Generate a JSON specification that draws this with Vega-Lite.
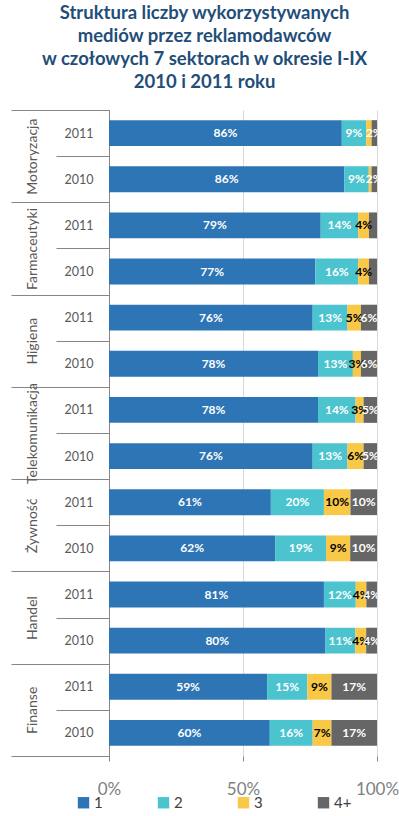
{
  "$schema": "https://vega.github.io/schema/vega-lite/v6.json",
  "width": 268,
  "height": 646,
  "padding": {"left": 10, "top": 3, "right": 3, "bottom": 5},
  "config": {"view": {"stroke": null}, "font": "Lato"},
  "title": {
    "text": ["Struktura liczby wykorzystywanych", "mediów przez reklamodawców", "w czołowych 7 sektorach w okresie I-IX", "2010 i 2011 roku"],
    "font": "Lato", "fontSize": 18.5, "fontWeight": "bold", "color": "#1F4E79",
    "lineHeight": 23, "anchor": "middle", "frame": "bounds", "offset": 13
  },
  "layer": [
    {
      "data": {"values": [
        {"sector": "Motoryzacja", "year": "2011", "s": "1", "v": 86, "lab": "86%"},
        {"sector": "Motoryzacja", "year": "2011", "s": "2", "v": 9, "lab": "9%"},
        {"sector": "Motoryzacja", "year": "2011", "s": "3", "v": 2, "lab": ""},
        {"sector": "Motoryzacja", "year": "2011", "s": "4+", "v": 2, "lab": "2%"},
        {"sector": "Motoryzacja", "year": "2010", "s": "1", "v": 86, "lab": "86%"},
        {"sector": "Motoryzacja", "year": "2010", "s": "2", "v": 9, "lab": "9%"},
        {"sector": "Motoryzacja", "year": "2010", "s": "3", "v": 1, "lab": ""},
        {"sector": "Motoryzacja", "year": "2010", "s": "4+", "v": 2, "lab": "2%"},
        {"sector": "Farmaceutyki", "year": "2011", "s": "1", "v": 79, "lab": "79%"},
        {"sector": "Farmaceutyki", "year": "2011", "s": "2", "v": 14, "lab": "14%"},
        {"sector": "Farmaceutyki", "year": "2011", "s": "3", "v": 4, "lab": "4%"},
        {"sector": "Farmaceutyki", "year": "2011", "s": "4+", "v": 3, "lab": ""},
        {"sector": "Farmaceutyki", "year": "2010", "s": "1", "v": 77, "lab": "77%"},
        {"sector": "Farmaceutyki", "year": "2010", "s": "2", "v": 16, "lab": "16%"},
        {"sector": "Farmaceutyki", "year": "2010", "s": "3", "v": 4, "lab": "4%"},
        {"sector": "Farmaceutyki", "year": "2010", "s": "4+", "v": 3, "lab": ""},
        {"sector": "Higiena", "year": "2011", "s": "1", "v": 76, "lab": "76%"},
        {"sector": "Higiena", "year": "2011", "s": "2", "v": 13, "lab": "13%"},
        {"sector": "Higiena", "year": "2011", "s": "3", "v": 5, "lab": "5%"},
        {"sector": "Higiena", "year": "2011", "s": "4+", "v": 6, "lab": "6%"},
        {"sector": "Higiena", "year": "2010", "s": "1", "v": 78, "lab": "78%"},
        {"sector": "Higiena", "year": "2010", "s": "2", "v": 13, "lab": "13%"},
        {"sector": "Higiena", "year": "2010", "s": "3", "v": 3, "lab": "3%"},
        {"sector": "Higiena", "year": "2010", "s": "4+", "v": 6, "lab": "6%"},
        {"sector": "Telekomunikacja", "year": "2011", "s": "1", "v": 78, "lab": "78%"},
        {"sector": "Telekomunikacja", "year": "2011", "s": "2", "v": 14, "lab": "14%"},
        {"sector": "Telekomunikacja", "year": "2011", "s": "3", "v": 3, "lab": "3%"},
        {"sector": "Telekomunikacja", "year": "2011", "s": "4+", "v": 5, "lab": "5%"},
        {"sector": "Telekomunikacja", "year": "2010", "s": "1", "v": 76, "lab": "76%"},
        {"sector": "Telekomunikacja", "year": "2010", "s": "2", "v": 13, "lab": "13%"},
        {"sector": "Telekomunikacja", "year": "2010", "s": "3", "v": 6, "lab": "6%"},
        {"sector": "Telekomunikacja", "year": "2010", "s": "4+", "v": 5, "lab": "5%"},
        {"sector": "Żywność", "year": "2011", "s": "1", "v": 61, "lab": "61%"},
        {"sector": "Żywność", "year": "2011", "s": "2", "v": 20, "lab": "20%"},
        {"sector": "Żywność", "year": "2011", "s": "3", "v": 10, "lab": "10%"},
        {"sector": "Żywność", "year": "2011", "s": "4+", "v": 10, "lab": "10%"},
        {"sector": "Żywność", "year": "2010", "s": "1", "v": 62, "lab": "62%"},
        {"sector": "Żywność", "year": "2010", "s": "2", "v": 19, "lab": "19%"},
        {"sector": "Żywność", "year": "2010", "s": "3", "v": 9, "lab": "9%"},
        {"sector": "Żywność", "year": "2010", "s": "4+", "v": 10, "lab": "10%"},
        {"sector": "Handel", "year": "2011", "s": "1", "v": 81, "lab": "81%"},
        {"sector": "Handel", "year": "2011", "s": "2", "v": 12, "lab": "12%"},
        {"sector": "Handel", "year": "2011", "s": "3", "v": 4, "lab": "4%"},
        {"sector": "Handel", "year": "2011", "s": "4+", "v": 4, "lab": "4%"},
        {"sector": "Handel", "year": "2010", "s": "1", "v": 80, "lab": "80%"},
        {"sector": "Handel", "year": "2010", "s": "2", "v": 11, "lab": "11%"},
        {"sector": "Handel", "year": "2010", "s": "3", "v": 4, "lab": "4%"},
        {"sector": "Handel", "year": "2010", "s": "4+", "v": 4, "lab": "4%"},
        {"sector": "Finanse", "year": "2011", "s": "1", "v": 59, "lab": "59%"},
        {"sector": "Finanse", "year": "2011", "s": "2", "v": 15, "lab": "15%"},
        {"sector": "Finanse", "year": "2011", "s": "3", "v": 9, "lab": "9%"},
        {"sector": "Finanse", "year": "2011", "s": "4+", "v": 17, "lab": "17%"},
        {"sector": "Finanse", "year": "2010", "s": "1", "v": 60, "lab": "60%"},
        {"sector": "Finanse", "year": "2010", "s": "2", "v": 16, "lab": "16%"},
        {"sector": "Finanse", "year": "2010", "s": "3", "v": 7, "lab": "7%"},
        {"sector": "Finanse", "year": "2010", "s": "4+", "v": 17, "lab": "17%"}
      ]},
      "transform": [
        {"calculate": "datum.sector + '|' + datum.year", "as": "key"},
        {"stack": "v", "groupby": ["key"], "sort": [{"field": "s", "order": "ascending"}], "offset": "normalize", "as": ["v0", "v1"]},
        {"calculate": "(datum.v0 + datum.v1) / 2", "as": "mid"}
      ],
      "encoding": {
        "y": {
          "field": "key", "type": "nominal",
          "sort": ["Motoryzacja|2011", "Motoryzacja|2010", "Farmaceutyki|2011", "Farmaceutyki|2010", "Higiena|2011", "Higiena|2010", "Telekomunikacja|2011", "Telekomunikacja|2010", "Żywność|2011", "Żywność|2010", "Handel|2011", "Handel|2010", "Finanse|2011", "Finanse|2010"],
          "scale": {"paddingInner": 0, "paddingOuter": 0},
          "axis": {
            "orient": "left",
            "title": null, "domainColor": "#868686", "tickColor": "#868686",
            "tickBand": "extent", "tickSize": 53, "labelPadding": -37,
            "labelExpr": "split(datum.value, '|')[1]",
            "labelFontSize": 12.5, "labelColor": "#595959", "labelFont": "Lato"
          }
        }
      },
      "layer": [
        {
          "mark": {"type": "bar", "height": {"band": 0.56}},
          "encoding": {
            "x": {
              "field": "v0", "type": "quantitative", "scale": {"domain": [0, 1]},
              "axis": {
                "title": null, "format": "%", "values": [0, 0.5, 1], "domain": false,
                "tickSize": 5, "tickColor": "#868686", "gridColor": "#d9d9d9",
                "labelFontSize": 17, "labelColor": "#7f7f7f", "labelPadding": 20, "labelFlush": false
              }
            },
            "x2": {"field": "v1"},
            "color": {
              "field": "s", "type": "nominal",
              "scale": {"domain": ["1", "2", "3", "4+"], "range": ["#2E75B6", "#4BC4CF", "#F9C846", "#666666"]},
              "legend": {
                "orient": "none", "legendX": -33, "legendY": 685, "direction": "horizontal",
                "title": null, "symbolType": "square", "symbolSize": 130, "symbolStrokeWidth": 0,
                "labelFontSize": 15, "labelColor": "#404040", "columnPadding": 53, "labelOffset": 3
              }
            }
          }
        },
        {
          "mark": {"type": "text", "fontWeight": "bold", "fontSize": 12, "clip": true},
          "encoding": {
            "x": {"field": "mid", "type": "quantitative"},
            "text": {"field": "lab"},
            "color": {"condition": {"test": "datum.s === '3'", "value": "#000000"}, "value": "#ffffff"}
          }
        }
      ]
    },
    {
      "data": {"values": [
        {"sector": "Motoryzacja"}, {"sector": "Farmaceutyki"}, {"sector": "Higiena"},
        {"sector": "Telekomunikacja"}, {"sector": "Żywność"}, {"sector": "Handel"}, {"sector": "Finanse"}
      ]},
      "mark": {"type": "bar", "opacity": 0},
      "encoding": {
        "y": {
          "field": "sector", "type": "nominal",
          "sort": ["Motoryzacja", "Farmaceutyki", "Higiena", "Telekomunikacja", "Żywność", "Handel", "Finanse"],
          "scale": {"paddingInner": 0, "paddingOuter": 0},
          "axis": {
            "orient": "left",
            "title": null, "domain": false, "tickColor": "#868686",
            "tickBand": "extent", "tickSize": 98, "labelPadding": -21,
            "labelAngle": -90, "labelAlign": "center", "labelBaseline": "middle",
            "labelFontSize": 14, "labelColor": "#595959", "labelFont": "Lato"
          }
        }
      }
    }
  ],
  "resolve": {"scale": {"y": "independent"}}
}
